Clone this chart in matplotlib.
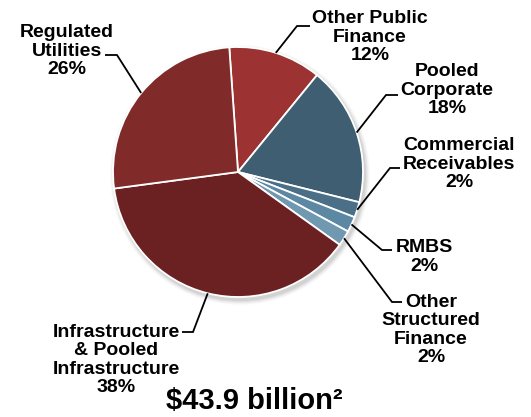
import numpy as np
import matplotlib
matplotlib.use("Agg")
import matplotlib.pyplot as plt
from matplotlib.patches import Circle

categories = ["Other Public\nFinance", "Pooled\nCorporate", "Commercial\nReceivables", "RMBS",
              "Other\nStructured\nFinance", "Infrastructure\n& Pooled\nInfrastructure", "Regulated\nUtilities"]
values = [12, 18, 2, 2, 2, 38, 26]
pct_labels = ["12%", "18%", "2%", "2%", "2%", "38%", "26%"]
colors = ["#9c3232", "#3f5e72", "#4a6f86", "#5c88a3", "#7099b1", "#6b2121", "#812a2a"]
total_label = "$43.9 billion\u00b2"

W, H = 531, 417
fig = plt.figure(figsize=(W / 100, H / 100), dpi=100)
ax = fig.add_axes([0, 0, 1, 1])

cx, cy, R = 238, H - 172, 125

# soft shadow
for i, a in enumerate(np.linspace(0.05, 0.02, 5)):
    ax.add_patch(Circle((cx + 2, cy - 3), R + 1 + i, color="#000000", alpha=a, lw=0, zorder=0))

wedges, _ = ax.pie(values, colors=colors, startangle=94, counterclock=False,
                   center=(cx, cy), radius=R, frame=True,
                   wedgeprops=dict(edgecolor="white", linewidth=1.3))
ax.set_xlim(0, W)
ax.set_ylim(0, H)
ax.set_aspect("equal")
ax.axis("off")

font = dict(family=["Liberation Sans", "DejaVu Sans"], fontweight="bold", fontsize=14, color="black")

# label layout: (text x, text centre y in px from top, elbow x, elbow y (px from top), horizontal end x)
layout = [
    (370, 37, 297, 26, 310),
    (447, 90, 386, 95, 398),
    (459, 164, 390, 168, 400),
    (424, 257, 382, 250, 392),
    (431, 330, 392, 302, 402),
    (116, 360, 193, 332, 182),
    (67, 51, 117, 55, 105),
]

for w, cat, pct, (tx, ty, ex, ey, hx) in zip(wedges, categories, pct_labels, layout):
    mid = np.deg2rad((w.theta1 + w.theta2) / 2)
    px, py = cx + R * np.cos(mid), cy + R * np.sin(mid)
    ax.plot([px, ex, hx], [py, H - ey, H - ey], color="black", lw=1.3, zorder=5,
            solid_capstyle="butt", solid_joinstyle="miter")
    ax.text(tx, H - ty, cat + "\n" + pct, ha="center", va="center", linespacing=1.1, **font)

ax.text(254, H - 409, total_label, ha="center", va="baseline",
        family=["Liberation Sans", "DejaVu Sans"], fontweight="bold", fontsize=21)

fig.savefig("out.png", dpi=100, facecolor="white")
